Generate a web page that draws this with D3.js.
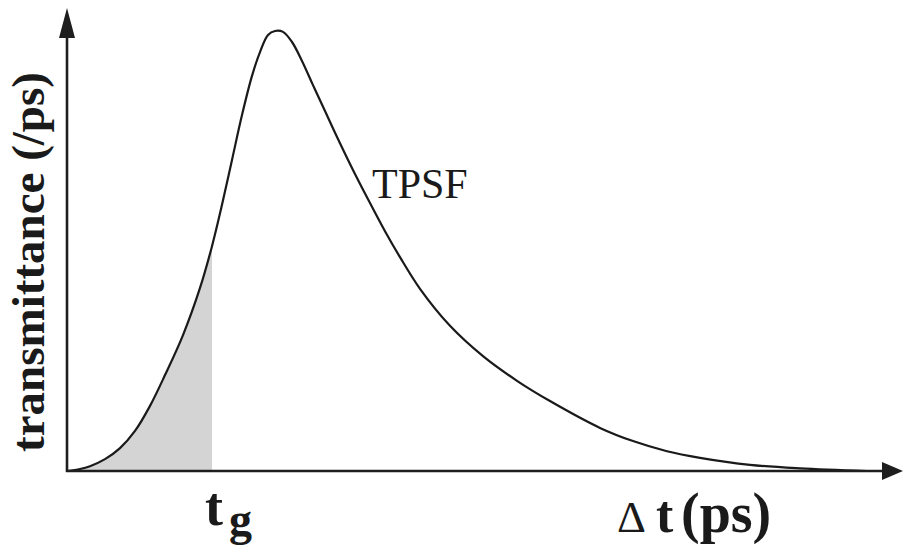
<!DOCTYPE html>
<html>
<head>
<meta charset="utf-8">
<script src="https://cdn.jsdelivr.net/npm/d3@7"></script>
<style>
  html, body { margin: 0; padding: 0; background: #fff; }
  svg { display: block; }
</style>
</head>
<body>
<svg id="chart" width="904" height="549"></svg>
<script>
// Temporal point spread function: delay (ps) and normalised transmittance
const delays = [0, 6.5, 11.5, 19, 26.5, 34, 41.5, 49, 58, 66.5, 72.5, 77.5, 82.5, 87.5,
  92.5, 96.5, 100.5, 104, 108, 112.5, 117.5, 123, 129, 136.5, 144, 151.5, 159, 166.5,
  176.5, 191.5, 208, 225, 241.5, 266.5, 283, 300, 316.5, 341.5, 366.5, 400];
const transmittance = [0, 0.0045, 0.011, 0.027, 0.052, 0.091, 0.148, 0.218, 0.309, 0.416,
  0.511, 0.605, 0.707, 0.809, 0.898, 0.952, 0.991, 1.0, 0.998, 0.975, 0.932, 0.877,
  0.818, 0.745, 0.675, 0.609, 0.545, 0.486, 0.414, 0.330, 0.261, 0.205, 0.159, 0.098,
  0.068, 0.045, 0.030, 0.014, 0.006, 0];
// Gate time: photons arriving before it are integrated (shaded)
const gateTime = 72.5;

const yLabel = "transmittance (/ps)";
const curveLabel = "TPSF";

const serif = "'Liberation Serif', 'Times New Roman', Times, serif";
const svg = d3.select("#chart").attr("font-family", serif);
const x = d3.scaleLinear().domain([0, 400]).range([67, 867]);
const y = d3.scaleLinear().domain([0, 1]).range([471, 31]);

const points = delays.map((t, i) => ({ t, v: transmittance[i] }));
const smooth = d3.curveCatmullRom.alpha(0.5);

// clip everything to the positive quadrant
svg.append("clipPath").attr("id", "plot")
  .append("rect").attr("x", x(0)).attr("y", 0)
  .attr("width", 904).attr("height", y(0));

// shaded integral up to the gate time
svg.append("clipPath").attr("id", "gate")
  .append("rect")
  .attr("x", x(0)).attr("y", 0)
  .attr("width", x(gateTime) - x(0)).attr("height", y(0));

const area = d3.area().x(d => x(d.t)).y0(y(0)).y1(d => y(d.v)).curve(smooth);
svg.append("path").datum(points)
  .attr("d", area)
  .attr("fill", "#d4d4d4")
  .attr("clip-path", "url(#gate)");

// TPSF curve
const line = d3.line().x(d => x(d.t)).y(d => y(d.v)).curve(smooth);
svg.append("path").datum(points)
  .attr("d", line)
  .attr("fill", "none")
  .attr("stroke", "#1a1a1a")
  .attr("stroke-width", 2.2)
  .attr("stroke-linejoin", "round")
  .attr("clip-path", "url(#plot)");

// axes with arrowheads
const ax = x(0), ay = y(0);
const g = svg.append("g").attr("stroke", "#1e1e1e").attr("stroke-width", 2.6).attr("fill", "none");
g.append("line").attr("x1", ax).attr("y1", ay + 1).attr("x2", ax).attr("y2", 36);
g.append("line").attr("x1", ax - 1).attr("y1", ay).attr("x2", 884).attr("y2", ay);
svg.append("path").attr("fill", "#1e1e1e")
  .attr("d", `M${ax},8 L${ax + 8},38 L${ax - 8},38 Z`);
svg.append("path").attr("fill", "#1e1e1e")
  .attr("d", `M903,${ay} L882,${ay - 9} L882,${ay + 9} Z`);

// labels
svg.append("text")
  .attr("transform", "translate(44,262) rotate(-90)")
  .attr("text-anchor", "middle")
  .attr("font-weight", "bold")
  .attr("font-size", 47)
  .attr("fill", "#1a1a1a")
  .text(yLabel);

svg.append("text")
  .attr("x", 372).attr("y", 198)
  .attr("font-size", 42)
  .attr("fill", "#1a1a1a")
  .text(curveLabel);

const tg = svg.append("text").attr("x", 205).attr("y", 525)
  .attr("font-weight", "bold").attr("fill", "#1a1a1a");
tg.append("tspan").attr("font-size", 54).text("t");
tg.append("tspan").attr("x", 229).attr("y", 535).attr("font-size", 46).text("g");

const dt = svg.append("text").attr("x", 617).attr("y", 532)
  .attr("font-weight", "bold").attr("fill", "#1a1a1a");
dt.append("tspan").attr("font-size", 45).attr("font-weight", "normal").text("Δ");
dt.append("tspan").attr("x", 656).attr("font-size", 52).text("t");
dt.append("tspan").attr("x", 681).attr("font-size", 56).text("(ps)");
</script>
</body>
</html>
